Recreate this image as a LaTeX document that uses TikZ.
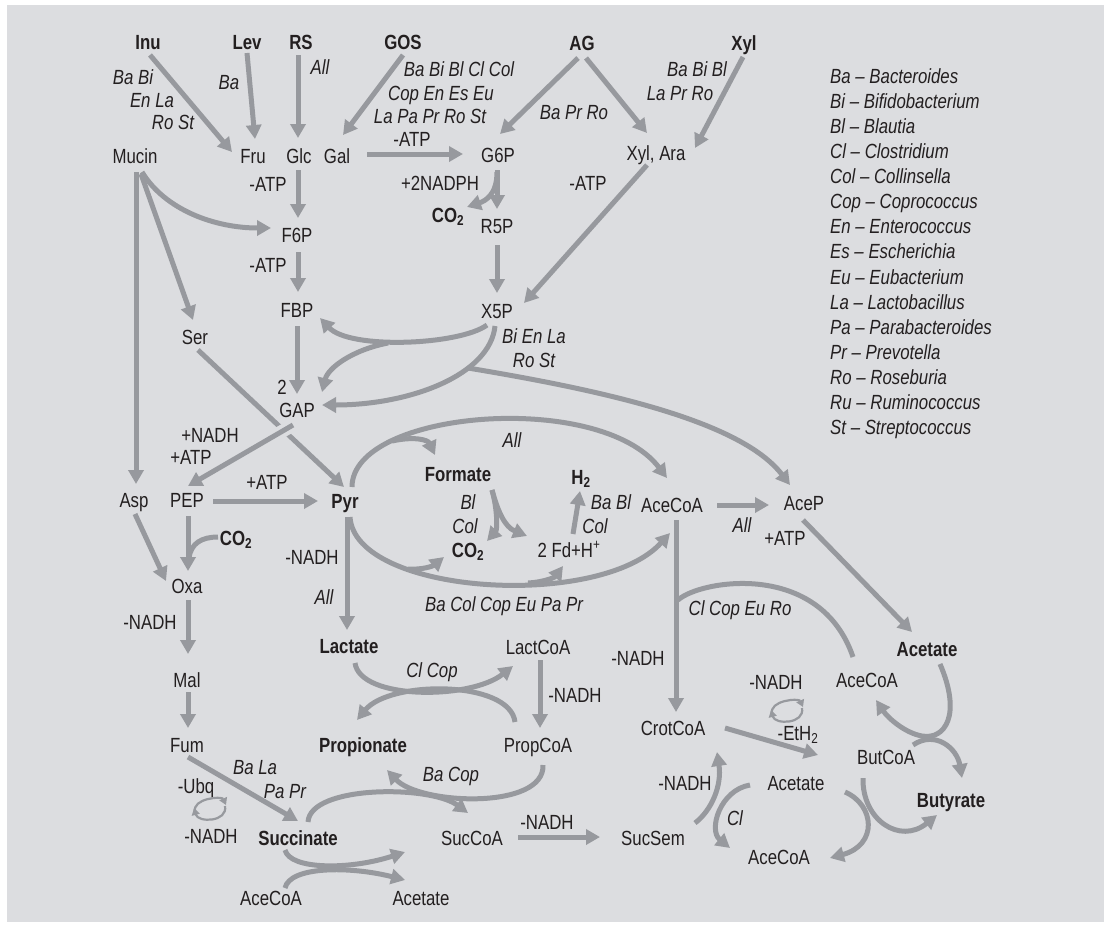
\documentclass[tikz,border=0pt]{standalone}
\usepackage{fontspec}
\setmainfont{Liberation Sans}[FakeStretch=0.82]
\usetikzlibrary{arrows.meta}
\definecolor{bg}{HTML}{DCDDE0}
\definecolor{ac}{HTML}{97999E}
\definecolor{tc}{HTML}{231F20}
\newcommand\fsz{\fontsize{20.5}{25}\selectfont}
\begin{document}
\begin{tikzpicture}[x=1pt,y=-1pt,
 lbl/.style={inner sep=0pt, text height=14.5pt, text depth=0pt, font=\fsz, text=tc},
 bd/.style={lbl, font=\fsz\bfseries},
 sp/.style={lbl, font=\fsz\itshape},
 ln/.style={draw=ac, line width=5pt},
 arr/.style={ln, -{Triangle[length=14pt,width=15pt]}},
 cyc/.style={draw=ac, line width=2.2pt, -{Triangle[length=7pt,width=8pt]}},
 cycpic/.pic={\draw[cyc] (-15,4) .. controls (-18,-10) and (12,-12) .. (16,-3);
              \draw[cyc] (15,-2) .. controls (18,14) and (-12,15) .. (-16,0);}
]
\useasboundingbox (0,0) rectangle (1105,924);
\fill[bg] (7,5) rectangle (1104,922);

% ---------- nodes ----------
\node[bd] (Inu) at (148,42) {Inu};
\node[bd] (Lev) at (247,42) {Lev};
\node[bd] (RS) at (301,42) {RS};
\node[bd] (GOS) at (403,42) {GOS};
\node[bd] (AG) at (582,43) {AG};
\node[bd] (Xyl) at (744,43) {Xyl};
\node[lbl] (Mucin) at (135,156) {Mucin};
\node[lbl] (Fru) at (253,156) {Fru};
\node[lbl] (Glc) at (299,156) {Glc};
\node[lbl] (Gal) at (337,156) {Gal};
\node[lbl] (G6P) at (498,155) {G6P};
\node[lbl] (XylAra) at (656,153) {Xyl, Ara};
\node[lbl] (F6P) at (297,235) {F6P};
\node[bd] (CO2a) at (448,215) {CO\textsubscript{2}};
\node[lbl] (R5P) at (497,226) {R5P};
\node[lbl] (FBP) at (297,310) {FBP};
\node[lbl] (X5P) at (497,311) {X5P};
\node[lbl] (Ser) at (195,337) {Ser};
\node[lbl] (two) at (282,387) {2};
\node[lbl] (GAP) at (297,410) {GAP};
\node[lbl] (Asp) at (134,500) {Asp};
\node[lbl] (PEP) at (187,500) {PEP};
\node[bd] (Pyr) at (345,501) {Pyr};
\node[bd] (CO2b) at (236,538) {CO\textsubscript{2}};
\node[lbl] (Oxa) at (187,586) {Oxa};
\node[lbl] (Mal) at (187,680) {Mal};
\node[lbl] (Fum) at (187,745) {Fum};
\node[bd] (Succ) at (298,838) {Succinate};
\node[lbl] (AceCoAa) at (271,898) {AceCoA};
\node[lbl] (Acetatea) at (421,898) {Acetate};
\node[lbl] (SucCoA) at (472,838) {SucCoA};
\node[lbl] (SucSem) at (653,838) {SucSem};
\node[bd] (Lactate) at (349,646) {Lactate};
\node[lbl] (LactCoA) at (538,647) {LactCoA};
\node[bd] (Propionate) at (363,745) {Propionate};
\node[lbl] (PropCoA) at (538,745) {PropCoA};
\node[bd] (Formate) at (458,474) {Formate};
\node[bd] (H2) at (581,477) {H\textsubscript{2}};
\node[bd] (CO2c) at (468,550) {CO\textsubscript{2}};
\node[lbl] (Fd) at (569,550) {2 Fd+H\textsuperscript{+}};
\node[lbl] (AceCoAb) at (672,505) {AceCoA};
\node[lbl] (AceP) at (804,503) {AceP};
\node[bd] (Acetateb) at (927,649) {Acetate};
\node[lbl] (AceCoAc) at (867,680) {AceCoA};
\node[lbl] (CrotCoA) at (673,728) {CrotCoA};
\node[lbl] (ButCoA) at (886,757) {ButCoA};
\node[bd] (Butyrate) at (951,800) {Butyrate};
\node[lbl] (Acetatec) at (796,783) {Acetate};
\node[lbl] (AceCoAd) at (779,857) {AceCoA};

% ---------- cofactor labels ----------
\node[lbl] (c1) at (268,184) {-ATP};
\node[lbl] (c2) at (268,265) {-ATP};
\node[lbl] (c3) at (412,139) {-ATP};
\node[lbl] (c4) at (440,183) {+2NADPH};
\node[lbl] (c5) at (588,183) {-ATP};
\node[lbl] (c6) at (210,435) {+NADH};
\node[lbl] (c7) at (191,457) {+ATP};
\node[lbl] (c8) at (267,482) {+ATP};
\node[lbl] (c9) at (312,557) {-NADH};
\node[lbl] (c10) at (150,622) {-NADH};
\node[lbl] (c11) at (196,786) {-Ubq};
\node[lbl] (c12) at (211,836) {-NADH};
\node[lbl] (c13) at (575,695) {-NADH};
\node[lbl] (c14) at (547,822) {-NADH};
\node[lbl] (c15) at (638,658) {-NADH};
\node[lbl] (c16) at (685,783) {-NADH};
\node[lbl] (c17) at (776,682) {-NADH};
\node[lbl] (c18) at (798,733) {-EtH\textsubscript{2}};
\node[lbl] (c19) at (785,538) {+ATP};

% ---------- species labels ----------
\node[sp] (s1) at (133,77) {Ba Bi};
\node[sp] (s2) at (152,100) {En La};
\node[sp] (s3) at (173,122) {Ro St};
\node[sp] (s4) at (229,82) {Ba};
\node[sp] (s5) at (320,67) {All};
\node[sp] (s6) at (459,69) {Ba Bi Bl Cl Col};
\node[sp] (s7) at (441,93) {Cop En Es Eu};
\node[sp] (s8) at (430,116) {La Pa Pr Ro St};
\node[sp] (s9) at (574,112) {Ba Pr Ro};
\node[sp] (s10) at (697,69) {Ba Bi Bl};
\node[sp] (s11) at (680,93) {La Pr Ro};
\node[sp] (s12) at (534,336) {Bi En La};
\node[sp] (s13) at (534,360) {Ro St};
\node[sp] (s14) at (512,440) {All};
\node[sp] (s15) at (468,502) {Bl};
\node[sp] (s16) at (465,526) {Col};
\node[sp] (s17) at (611,502) {Ba Bl};
\node[sp] (s18) at (595,526) {Col};
\node[sp] (s19) at (324,597) {All};
\node[sp] (s20) at (504,604) {Ba Col Cop Eu Pa Pr};
\node[sp] (s21) at (742,525) {All};
\node[sp] (s22) at (740,608) {Cl Cop Eu Ro};
\node[sp] (s23) at (432,670) {Cl Cop};
\node[sp] (s24) at (451,774) {Ba Cop};
\node[sp] (s25) at (255,767) {Ba La};
\node[sp] (s26) at (285,791) {Pa Pr};
\node[sp] (s27) at (735,818) {Cl};

% ---------- legend ----------
\foreach \t [count=\i] in {Ba -- Bacteroides, Bi -- Bifidobacterium, Bl -- Blautia,
  Cl -- Clostridium, Col -- Collinsella, Cop -- Coprococcus, En -- Enterococcus,
  Es -- Escherichia, Eu -- Eubacterium, La -- Lactobacillus, Pa -- Parabacteroides,
  Pr -- Prevotella, Ro -- Roseburia, Ru -- Ruminococcus, St -- Streptococcus}
  \node[sp, anchor=west] (leg\i) at (830,{76+25.1*(\i-1)}) {\t};

% ---------- connectors ----------
% substrates
\draw[arr] ([shift={(2,13)}]Inu.center) -- ([shift={(-21,-4)}]Fru.center);
\draw[arr] ([shift={(0,11)}]Lev.center) -- ([shift={(2,-17)}]Fru.center);
\draw[arr] ([shift={(-3,13)}]RS.center) -- ([shift={(-1,-18)}]Glc.center);
\draw[arr] ([shift={(0,13)}]GOS.center) -- ([shift={(6,-21)}]Gal.center);
\draw[arr] ([shift={(30,-2)}]Gal.center) -- ([shift={(-35,-1)}]G6P.center);
\draw[arr] ([shift={(-4,15)}]AG.center) -- ([shift={(2,-21)}]G6P.center);
\draw[arr] ([shift={(4,15)}]AG.center) -- ([shift={(-9,-20)}]XylAra.center);
\draw[arr] ([shift={(-1,14)}]Xyl.center) -- ([shift={(39,-5)}]XylAra.center);
% glycolysis
\draw[arr] ([shift={(-1,14)}]Glc.center) -- ([shift={(1,-17)}]F6P.center);
\draw[arr] ([shift={(1,17)}]F6P.center) -- ([shift={(1,-18)}]FBP.center);
\draw[arr] ([shift={(0,16)}]FBP.center) -- ([shift={(0,-16)}]GAP.center);
\draw[arr] ([shift={(7,16)}]Mucin.center) .. controls (165,210) and (215,228) .. ([shift={(-26,-7)}]F6P.center);
\draw[arr] ([shift={(1,16)}]Mucin.center) -- ([shift={(2,-16)}]Asp.center);
\draw[arr] ([shift={(6,18)}]Mucin.center) -- ([shift={(-2,-17)}]Ser.center);
% pentose phosphate
\draw[arr] ([shift={(-1,15)}]G6P.center) -- ([shift={(0,-17)}]R5P.center);
\draw[arr] ([shift={(-1,17)}]G6P.center) .. controls (497,195) and (485,201) .. ([shift={(19,-8)}]CO2a.center);
\draw[arr] ([shift={(0,19)}]R5P.center) -- ([shift={(0,-18)}]X5P.center);
\draw[arr] ([shift={(-9,12)}]XylAra.center) -- ([shift={(27,-8)}]X5P.center);
\draw[arr] ([shift={(-10,14)}]X5P.center) .. controls (460,345) and (350,350) .. ([shift={(23,8)}]FBP.center);
\draw[arr] (388,343) .. controls (352,350) and (328,368) .. ([shift={(25,-18)}]GAP.center);
\draw[arr] ([shift={(-2,15)}]X5P.center) .. controls (490,375) and (410,405) .. ([shift={(25,-5)}]GAP.center);
\draw[arr] (468,368) .. controls (600,390) and (740,420) .. ([shift={(-14,-18)}]AceP.center);
% lower glycolysis
\draw[arr] ([shift={(3,13)}]Ser.center) -- ([shift={(-1,-14)}]Pyr.center);
\draw[arr, preaction={draw=bg, line width=13pt, arrows=-}] ([shift={(-4,15)}]GAP.center) -- ([shift={(1,-14)}]PEP.center);
\draw[arr] ([shift={(26,1)}]PEP.center) -- ([shift={(-27,0)}]Pyr.center);
\draw[arr] ([shift={(1,16)}]PEP.center) -- ([shift={(1,-15)}]Oxa.center);
\draw[ln] ([shift={(-18,-1)}]CO2b.center) .. controls (202,537) and (191,543) .. (189,558);
\draw[arr] ([shift={(1,14)}]Asp.center) -- ([shift={(-21,-5)}]Oxa.center);
\draw[arr] ([shift={(1,14)}]Oxa.center) -- ([shift={(1,-26)}]Mal.center);
\draw[arr] ([shift={(1,12)}]Mal.center) -- ([shift={(1,-17)}]Fum.center);
\draw[arr] ([shift={(1,12)}]Fum.center) -- ([shift={(0,-17)}]Succ.center);
\pic (cy1) at (210,808) {cycpic};
% pyruvate
\draw[arr] ([shift={(2,16)}]Pyr.center) -- ([shift={(-2,-16)}]Lactate.center);
\draw[arr] ([shift={(7,-14)}]Pyr.center) .. controls (352,410) and (600,390) .. ([shift={(-5,-27)}]AceCoAb.center);
\draw[arr] (392,441) .. controls (415,436) and (428,440) .. ([shift={(-23,-19)}]Formate.center);
\draw[arr] ([shift={(5,16)}]Pyr.center) .. controls (355,595) and (600,610) .. ([shift={(-2,28)}]AceCoAb.center);
\draw[arr] (408,569) .. controls (422,570) and (433,566) .. ([shift={(-24,7)}]CO2c.center);
\draw[arr] (528,583) .. controls (545,582) and (555,577) .. ([shift={(-6,16)}]Fd.center);
\draw[arr] ([shift={(34,16)}]Formate.center) .. controls (498,512) and (497,530) .. ([shift={(19,-9)}]CO2c.center);
\draw[arr] ([shift={(34,16)}]Formate.center) .. controls (498,512) and (505,527) .. ([shift={(-42,-14)}]Fd.center);
\draw[arr] ([shift={(4,-16)}]Fd.center) -- ([shift={(-1,14)}]H2.center);
% acetate / butyrate
\draw[arr] ([shift={(45,0)}]AceCoAb.center) -- ([shift={(-35,2)}]AceP.center);
\draw[arr] ([shift={(-1,17)}]AceP.center) -- ([shift={(-15,-17)}]Acetateb.center);
\draw[arr] ([shift={(4,15)}]AceCoAb.center) -- ([shift={(3,-16)}]CrotCoA.center);
\draw[ln] ([shift={(-14,-23)}]AceCoAc.center) .. controls (820,560) and (700,580) .. (678,600);
\draw[arr] ([shift={(52,0)}]CrotCoA.center) -- ([shift={(-68,-2)}]ButCoA.center);
\pic (cy2) at (787,710) {cycpic};
\draw[arr] ([shift={(13,15)}]Acetateb.center) .. controls (962,715) and (945,740) .. (922,736) .. controls (905,733) and (888,718) .. ([shift={(9,20)}]AceCoAc.center);
\draw[arr] ([shift={(27,-12)}]ButCoA.center) .. controls (935,730) and (957,748) .. ([shift={(11,-22)}]Butyrate.center);
\draw[arr] ([shift={(-23,21)}]ButCoA.center) .. controls (862,820) and (900,845) .. ([shift={(-14,15)}]Butyrate.center);
\draw[arr] ([shift={(49,9)}]Acetatec.center) .. controls (875,805) and (878,845) .. ([shift={(51,1)}]AceCoAd.center);
\draw[arr] ([shift={(42,-15)}]SucSem.center) .. controls (712,810) and (722,785) .. ([shift={(44,24)}]CrotCoA.center);
\draw[arr] ([shift={(-46,2)}]Acetatec.center) .. controls (720,790) and (708,830) .. ([shift={(-49,-9)}]AceCoAd.center);
% propionate / succinate
\draw[arr] ([shift={(46,-1)}]SucCoA.center) -- ([shift={(-53,-1)}]SucSem.center);
\draw[arr] ([shift={(2,13)}]LactCoA.center) -- ([shift={(2,-17)}]PropCoA.center);
\draw[arr] ([shift={(6,17)}]Lactate.center) .. controls (360,700) and (470,700) .. ([shift={(-25,19)}]LactCoA.center);
\draw[arr] ([shift={(-23,-23)}]PropCoA.center) .. controls (510,680) and (390,680) .. ([shift={(-6,-25)}]Propionate.center);
\draw[arr] ([shift={(5,20)}]PropCoA.center) .. controls (545,810) and (420,805) .. ([shift={(24,25)}]Propionate.center);
\draw[arr] ([shift={(10,-16)}]Succ.center) .. controls (310,785) and (430,785) .. ([shift={(-4,-25)}]SucCoA.center);
\draw[arr] ([shift={(-13,12)}]Succ.center) .. controls (290,870) and (350,870) .. ([shift={(-67,14)}]SucCoA.center);
\draw[arr] ([shift={(14,-10)}]AceCoAa.center) .. controls (290,866) and (350,866) .. ([shift={(-16,-18)}]Acetatea.center);
\end{tikzpicture}
\end{document}
